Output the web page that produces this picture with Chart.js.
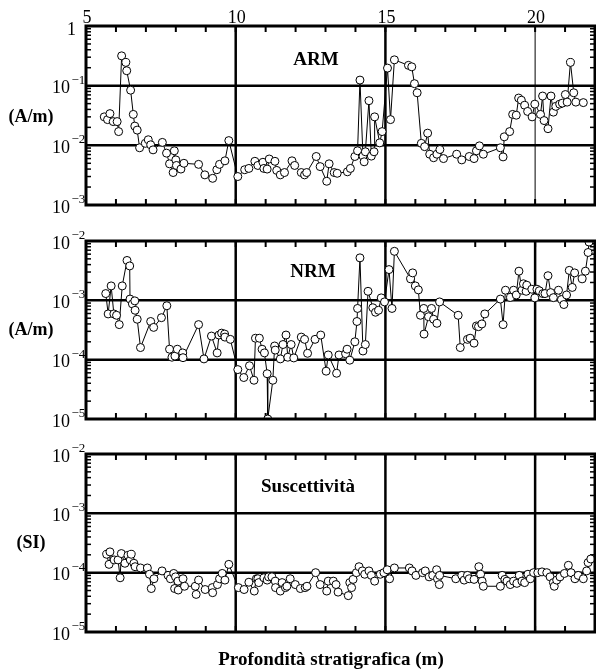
<!DOCTYPE html>
<html><head><meta charset="utf-8">
<script src="https://cdn.jsdelivr.net/npm/chart.js@4.4.1/dist/chart.umd.min.js"></script>
<style>
html,body{margin:0;padding:0;background:#fff;overflow:hidden}
body{width:596px;height:672px;position:relative}
canvas{position:absolute;left:0}
</style></head><body>
<canvas id="c1" width="600" height="215" style="top:0"></canvas>
<canvas id="c2" width="600" height="215" style="top:215px"></canvas>
<canvas id="c3" width="600" height="242" style="top:430px"></canvas>
<script>
// ---------- data ----------
const xTickLabels = [5, 10, 15, 20];
const xGridLines = [10, 15, 20];

const armDepth = [5.61,5.72,5.80,5.91,6.04,6.09,6.19,6.33,6.36,6.49,6.58,6.63,6.71,6.79,6.98,7.08,7.16,7.24,7.55,7.69,7.79,7.91,7.95,8.00,8.02,8.17,8.27,8.76,8.97,9.23,9.37,9.46,9.64,9.77,10.07,10.30,10.44,10.64,10.74,10.91,10.94,11.05,11.12,11.31,11.37,11.49,11.63,11.88,11.97,12.19,12.30,12.37,12.69,12.82,13.04,13.12,13.29,13.39,13.73,13.83,13.98,14.07,14.15,14.25,14.29,14.33,14.45,14.53,14.62,14.64,14.81,14.89,15.07,15.17,15.30,15.77,15.88,15.97,16.06,16.20,16.31,16.41,16.48,16.61,16.72,16.82,16.94,17.38,17.55,17.80,17.96,18.04,18.14,18.27,18.84,18.93,18.97,19.15,19.25,19.37,19.45,19.54,19.65,19.75,19.90,19.99,20.18,20.25,20.30,20.43,20.53,20.61,20.69,20.82,20.91,21.01,21.07,21.18,21.29,21.36,21.61];
const armValue = [0.030,0.027,0.034,0.025,0.025,0.017,0.316,0.245,0.178,0.084,0.033,0.021,0.018,0.0091,0.0108,0.0124,0.0102,0.0084,0.0112,0.0074,0.0049,0.0035,0.0081,0.0057,0.0046,0.0040,0.0050,0.0048,0.0032,0.0028,0.0039,0.0048,0.0055,0.012,0.0030,0.0039,0.0041,0.0054,0.0046,0.0052,0.0041,0.0040,0.0059,0.0054,0.0038,0.0032,0.0035,0.0055,0.0046,0.0035,0.0032,0.0035,0.0065,0.0044,0.0025,0.0049,0.0035,0.0034,0.0036,0.0041,0.0065,0.0081,0.124,0.0066,0.0053,0.0078,0.056,0.0066,0.0078,0.030,0.011,0.017,0.197,0.027,0.271,0.219,0.207,0.108,0.076,0.0108,0.0095,0.016,0.0071,0.0062,0.0071,0.0085,0.0060,0.0071,0.0057,0.0065,0.0060,0.0081,0.0098,0.0071,0.0091,0.0064,0.0139,0.017,0.033,0.032,0.062,0.057,0.047,0.037,0.030,0.049,0.033,0.067,0.026,0.019,0.067,0.036,0.045,0.049,0.051,0.071,0.053,0.245,0.076,0.053,0.052];

const nrmDepth = [5.66,5.74,5.84,5.93,6.02,6.11,6.21,6.37,6.46,6.47,6.55,6.63,6.64,6.71,6.82,7.16,7.26,7.52,7.70,7.79,7.87,7.97,8.05,8.23,8.24,8.76,8.94,9.19,9.38,9.44,9.53,9.63,9.64,9.82,10.07,10.27,10.46,10.61,10.66,10.79,10.88,10.96,11.05,11.07,11.24,11.30,11.32,11.49,11.58,11.68,11.74,11.85,11.94,12.19,12.30,12.40,12.65,12.84,13.02,13.09,13.37,13.45,13.67,13.72,13.81,13.98,14.05,14.07,14.15,14.25,14.33,14.42,14.58,14.67,14.77,14.86,14.97,15.12,15.22,15.30,15.84,15.91,16.00,16.10,16.17,16.28,16.29,16.44,16.54,16.61,16.72,16.81,17.43,17.50,17.74,17.83,17.96,18.04,18.11,18.22,18.32,18.84,18.93,19.01,19.18,19.28,19.37,19.46,19.56,19.61,19.70,19.72,19.89,19.99,20.06,20.14,20.26,20.33,20.43,20.52,20.61,20.78,20.88,20.96,21.05,21.14,21.24,21.32,21.57,21.68,21.77,21.80];
const nrmValue = [1.30e-3,5.9e-4,1.75e-3,5.9e-4,5.6e-4,3.9e-4,1.75e-3,4.7e-3,3.8e-3,1.05e-3,8.7e-4,9.8e-4,6.8e-4,4.8e-4,1.6e-4,4.4e-4,3.5e-4,5.1e-4,8.1e-4,1.5e-4,1.1e-4,1.15e-4,1.5e-4,1.3e-4,1.08e-4,3.9e-4,1.03e-4,2.5e-4,1.3e-4,2.6e-4,2.8e-4,2.7e-4,2.4e-4,2.2e-4,6.8e-5,5.0e-5,7.9e-5,4.5e-5,2.3e-4,2.3e-4,1.5e-4,1.3e-4,5.8e-5,1.0e-5,4.5e-5,1.7e-4,1.45e-4,1.03e-4,1.8e-4,2.6e-4,1.1e-4,1.8e-4,1.07e-4,2.4e-4,2.2e-4,1.28e-4,2.2e-4,2.6e-4,6.4e-5,1.2e-4,5.9e-5,1.2e-4,1.26e-4,1.5e-4,9.8e-5,2.0e-4,4.4e-4,7.3e-4,5.2e-3,1.4e-4,1.8e-4,1.42e-3,7.5e-4,6.3e-4,6.8e-4,1.1e-3,9.4e-4,3.3e-3,7.3e-4,6.7e-3,2.3e-3,2.9e-3,1.75e-3,1.5e-3,5.6e-4,7.3e-4,2.7e-4,5.3e-4,7.3e-4,4.8e-4,4.1e-4,9.4e-4,5.6e-4,1.6e-4,2.2e-4,2.3e-4,1.9e-4,3.7e-4,3.6e-4,4.0e-4,5.9e-4,1.05e-3,3.9e-4,1.48e-3,1.12e-3,1.48e-3,1.23e-3,3.1e-3,1.48e-3,1.9e-3,1.42e-3,1.8e-3,1.54e-3,1.1e-3,1.54e-3,1.45e-3,1.3e-3,1.3e-3,2.6e-3,1.35e-3,1.11e-3,1.48e-3,1.03e-3,8.5e-4,1.23e-3,3.2e-3,1.65e-3,2.9e-3,2.3e-3,3.1e-3,6.4e-3,9.6e-3];

const susDepth = [5.69,5.77,5.80,5.94,6.07,6.14,6.18,6.30,6.40,6.48,6.51,6.60,6.64,6.82,7.05,7.12,7.18,7.27,7.54,7.74,7.82,7.93,7.96,7.99,8.07,8.08,8.24,8.29,8.65,8.68,8.76,8.98,9.22,9.23,9.39,9.46,9.55,9.64,9.77,10.09,10.28,10.44,10.62,10.69,10.74,10.77,10.94,11.05,11.10,11.21,11.32,11.33,11.49,11.55,11.66,11.71,11.82,11.99,12.16,12.32,12.38,12.67,12.82,13.04,13.09,13.26,13.35,13.42,13.76,13.81,13.87,13.92,14.03,14.12,14.23,14.31,14.45,14.53,14.64,14.83,14.95,15.06,15.14,15.30,15.80,15.89,16.02,16.24,16.33,16.46,16.58,16.71,16.74,16.80,16.81,17.35,17.55,17.63,17.74,17.80,17.96,18.12,18.18,18.23,18.27,18.84,18.90,18.99,19.06,19.17,19.28,19.39,19.47,19.56,19.65,19.76,19.84,19.95,20.09,20.23,20.39,20.50,20.61,20.64,20.72,20.83,20.98,21.11,21.20,21.33,21.44,21.61,21.72,21.77,21.86];
const susValue = [2.04e-4,1.38e-4,2.24e-4,1.64e-4,1.64e-4,8.2e-5,2.1e-4,1.44e-4,1.96e-4,1.64e-4,2.04e-4,1.44e-4,1.26e-4,1.2e-4,1.2e-4,9.4e-5,5.4e-5,7.9e-5,1.07e-4,9.0e-5,7.9e-5,9.7e-5,5.4e-5,8.5e-5,7.2e-5,5.1e-5,7.9e-5,5.9e-5,5.9e-5,4.3e-5,7.5e-5,5.2e-5,5.6e-5,4.6e-5,6.3e-5,7.9e-5,9.7e-5,7.5e-5,1.38e-4,5.6e-5,5.2e-5,6.9e-5,4.9e-5,7.9e-5,7.9e-5,6.8e-5,8.2e-5,7.5e-5,8.5e-5,8.5e-5,7.2e-5,5.6e-5,4.9e-5,6.8e-5,5.6e-5,5.9e-5,7.9e-5,6.3e-5,5.4e-5,5.6e-5,5.9e-5,1.0e-4,6.3e-5,4.9e-5,7.2e-5,7.2e-5,6.3e-5,4.7e-5,4.1e-5,6.8e-5,5.6e-5,7.7e-5,1.0e-4,1.26e-4,1.07e-4,9.4e-5,1.07e-4,9.0e-5,7.2e-5,9.4e-5,1.0e-4,1.12e-4,7.9e-5,1.2e-4,1.2e-4,1.07e-4,9.0e-5,1.0e-4,1.07e-4,8.5e-5,9.0e-5,1.12e-4,7.9e-5,6.3e-5,9.0e-5,7.9e-5,9.0e-5,7.5e-5,9.0e-5,7.9e-5,7.7e-5,1.26e-4,9.4e-5,7.2e-5,5.9e-5,5.9e-5,9.0e-5,7.7e-5,7.2e-5,6.3e-5,7.2e-5,6.6e-5,9.0e-5,7.2e-5,6.8e-5,9.4e-5,7.9e-5,1.0e-4,1.0e-4,1.03e-4,1.0e-4,8.5e-5,6.8e-5,5.9e-5,7.5e-5,8.5e-5,9.7e-5,1.33e-4,1.0e-4,7.9e-5,9.0e-5,7.9e-5,1.07e-4,1.48e-4,1.7e-4];

const armDecades = [1e-3, 1e-2, 1e-1, 1];
const nrmDecades = [1e-5, 1e-4, 1e-3, 1e-2];
const susDecades = [1e-5, 1e-4, 1e-3, 1e-2];

// ---------- drawing ----------
const SERIF = '"Liberation Serif", "Times New Roman", serif';

function seg(ctx, x1, y1, x2, y2) { ctx.beginPath(); ctx.moveTo(x1, y1); ctx.lineTo(x2, y2); ctx.stroke(); }

const panelPlugin = {
  id: 'panel',
  beforeDatasetsDraw(chart, args, o) {
    const { ctx, chartArea: a, scales: { x, y } } = chart;
    ctx.save();
    ctx.strokeStyle = '#000';
    ctx.lineCap = 'butt';
    ctx.lineWidth = 2.5;
    o.decades.forEach((v, i) => {
      if (i === 0 || i === o.decades.length - 1) return;
      const py = y.getPixelForValue(v);
      seg(ctx, a.left, py, a.right, py);
    });
    xGridLines.forEach(v => {
      ctx.lineWidth = (o.thin20 && v === 20) ? 1 : 2.5;
      const px = x.getPixelForValue(v);
      seg(ctx, px, a.top, px, a.bottom);
    });
    ctx.lineWidth = 2;
    for (let v = 6; v < 22; v++) {
      const px = x.getPixelForValue(v);
      seg(ctx, px, a.top, px, a.top + 6);
      seg(ctx, px, a.bottom, px, a.bottom - 6);
    }
    ctx.lineWidth = 1.5;
    for (let i = 0; i < o.decades.length - 1; i++) {
      for (let k = 2; k <= 9; k++) {
        const py = y.getPixelForValue(k * o.decades[i]);
        seg(ctx, a.left, py, a.left + 5, py);
        seg(ctx, a.right, py, a.right - 5, py);
      }
    }
    ctx.restore();
  },
  afterDatasetsDraw(chart, args, o) {
    const { ctx, chartArea: a, scales: { x, y } } = chart;
    ctx.save();
    ctx.strokeStyle = '#000';
    ctx.lineWidth = 3;
    ctx.strokeRect(a.left, a.top, a.right - a.left, a.bottom - a.top);
    ctx.fillStyle = '#000';
    ctx.textBaseline = 'alphabetic';
    o.decades.forEach(v => {
      const py = y.getPixelForValue(v);
      const e = Math.round(Math.log10(v));
      if (e === 0) {
        ctx.font = '18px ' + SERIF; ctx.textAlign = 'right';
        ctx.fillText('1', 76, py + 9);
      } else {
        ctx.font = '18px ' + SERIF; ctx.textAlign = 'right';
        ctx.fillText('10', 70, py + 7.5);
        ctx.font = '13px ' + SERIF; ctx.textAlign = 'left';
        ctx.fillText('\u2212' + (-e), 71.5, py - 2);
      }
    });
    if (o.xLabels) {
      ctx.font = '18px ' + SERIF; ctx.textAlign = 'center';
      xTickLabels.forEach(v => ctx.fillText(String(v), x.getPixelForValue(v) + 1, 23));
    }
    ctx.font = 'bold 18px ' + SERIF; ctx.textAlign = 'center'; ctx.textBaseline = 'middle';
    ctx.fillText(o.unit, 31, o.unitY);
    ctx.font = 'bold 19px ' + SERIF; ctx.textBaseline = 'alphabetic';
    ctx.fillText(o.title, o.titleX, o.titleY);
    if (o.xTitle) {
      ctx.font = 'bold 19px ' + SERIF;
      ctx.fillText(o.xTitle, 331, o.xTitleY);
    }
    ctx.restore();
  }
};

function makePanel(id, depth, values, decades, pad, opts) {
  const pts = depth.map((d, i) => ({ x: d, y: values[i] }));
  return new Chart(document.getElementById(id), {
    type: 'line',
    data: { datasets: [{
      data: pts, borderColor: '#000', borderWidth: 1, tension: 0, fill: false,
      pointRadius: 4, pointBackgroundColor: '#fff', pointBorderColor: '#000', pointBorderWidth: 1
    }] },
    options: {
      responsive: false, animation: false, events: [],
      layout: { padding: pad },
      plugins: { legend: { display: false }, tooltip: { enabled: false }, panel: Object.assign({ decades }, opts) },
      scales: {
        x: { type: 'linear', min: 5, max: 22, display: false },
        y: { type: 'logarithmic', min: decades[0], max: decades[decades.length - 1], display: false }
      }
    },
    plugins: [panelPlugin]
  });
}

makePanel('c1', armDepth, armValue, armDecades, { left: 86, right: 1.4, top: 26, bottom: 10 },
  { thin20: true, xLabels: true, unit: '(A/m)', unitY: 117, title: 'ARM', titleX: 316, titleY: 65 });
makePanel('c2', nrmDepth, nrmValue, nrmDecades, { left: 86, right: 1.4, top: 26, bottom: 11 },
  { thin20: false, xLabels: false, unit: '(A/m)', unitY: 115, title: 'NRM', titleX: 313, titleY: 62 });
makePanel('c3', susDepth, susValue, susDecades, { left: 86, right: 1.4, top: 24, bottom: 40 },
  { thin20: false, xLabels: false, unit: '(SI)', unitY: 113, title: 'Suscettività', titleX: 308, titleY: 62,
    xTitle: 'Profondità stratigrafica (m)', xTitleY: 235 });
</script>
</body></html>
